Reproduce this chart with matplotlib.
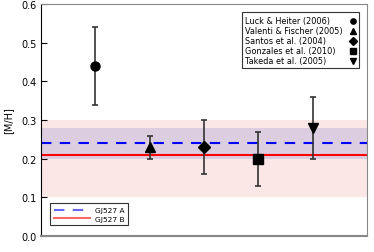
import matplotlib
matplotlib.use('Agg')
import matplotlib.pyplot as plt
import numpy as np

# metallicity literature values for GJ527 A
refs = ['Luck & Heiter (2006)', 'Valenti & Fischer (2005)', 'Santos et al. (2004)',
        'Gonzales et al. (2010)', 'Takeda et al. (2005)']
markers = ['o', '^', 'D', 's', 'v']
mh = [0.44, 0.23, 0.23, 0.20, 0.28]
mh_err = [0.10, 0.03, 0.07, 0.07, 0.08]

# adopted values
feh_a = 0.24
feh_a_lo, feh_a_hi = 0.20, 0.28
feh_b = 0.21
feh_b_lo, feh_b_hi = 0.10, 0.30

fig = plt.figure(figsize=(3.74, 2.53), dpi=100)
ax = fig.add_axes([0.11, 0.063, 0.871, 0.917])

xs = np.arange(1, len(mh) + 1)
ax.axhspan(feh_b_lo, feh_b_hi, color='#f4a0a0', alpha=0.25, lw=0)
ax.axhspan(feh_a_lo, feh_a_hi, color='#8080d0', alpha=0.25, lw=0)
la, = ax.plot([0, 6], [feh_a, feh_a], ls=(0, (5, 4)), color='blue', lw=1.5, label='GJ527 A')
lb, = ax.plot([0, 6], [feh_b, feh_b], color='red', lw=1.5, label='GJ527 B')

sizes = {'o': 6.5, '^': 7, 'D': 6, 's': 7, 'v': 7}
for x, y, e, m in zip(xs, mh, mh_err, markers):
    ax.errorbar(x, y, yerr=e, fmt='none', ecolor='#333333', elinewidth=1.2,
                capsize=2.5, capthick=1.2, zorder=3)
    ax.plot(x, y, marker=m, color='black', ls='none', ms=sizes[m], zorder=4)

# reference legend, labels left / symbols right
box = plt.Rectangle((0.617, 0.725), 0.358, 0.241, transform=ax.transAxes,
                    facecolor='white', edgecolor='#333333', lw=0.8, zorder=5)
ax.add_patch(box)
for i, (r, m) in enumerate(zip(refs, markers)):
    yy = 0.927 - i * 0.043
    ax.text(0.627, yy, r, transform=ax.transAxes, fontsize=5.9, va='center',
            ha='left', zorder=6)
    ax.plot(0.957, yy, marker=m, color='black', ms=3.8, transform=ax.transAxes,
            zorder=6, clip_on=False)

leg2 = ax.legend(handles=[la, lb], loc='lower left', fontsize=5.4, fancybox=False,
                 edgecolor='#333333', framealpha=1, handlelength=4.9,
                 borderpad=0.5, labelspacing=0.25, handletextpad=0.6,
                 bbox_to_anchor=(0.015, 0.03))
leg2.get_frame().set_linewidth(0.8)
for l in leg2.get_lines():
    l.set_alpha(0.6)

ax.set_xlim(0, 6)
ax.set_ylim(0, 0.6)
ax.set_xticks([])
ax.set_yticks([0.0, 0.1, 0.2, 0.3, 0.4, 0.5, 0.6])
ax.tick_params(axis='y', direction='in', length=4, labelsize=7, pad=3)
ax.set_ylabel('[M/H]', fontsize=7, labelpad=6)
for s in ['top', 'right', 'bottom']:
    ax.spines[s].set_color('#888888')
ax.spines['bottom'].set_linewidth(1.5)
ax.spines['left'].set_color('black')

fig.savefig('out.png', dpi=100)
